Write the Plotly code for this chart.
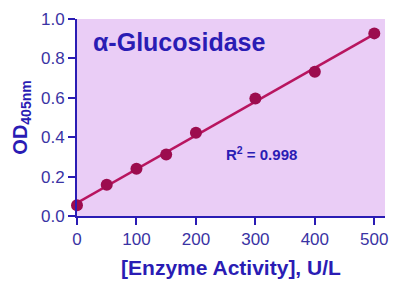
import numpy as np
import plotly.graph_objects as go

activity = [0, 50, 100, 150, 200, 300, 400, 500]
od405 = [0.055, 0.159, 0.240, 0.312, 0.423, 0.596, 0.732, 0.927]
x_ticks = [0, 100, 200, 300, 400, 500]
y_ticks = [0.0, 0.2, 0.4, 0.6, 0.8, 1.0]

slope, intercept = np.polyfit(activity, od405, 1)
fit_x = [activity[0], activity[-1]]
fit_y = [intercept + slope * v for v in fit_x]

blue = "#2A1CB4"
tick_blue = "#3A33A4"
fig = go.Figure()
fig.add_trace(go.Scatter(
    x=fit_x, y=fit_y, mode="lines",
    line=dict(color="#B8155F", width=2.6),
    cliponaxis=False, showlegend=False))
fig.add_trace(go.Scatter(
    x=activity, y=od405, mode="markers",
    marker=dict(color="#9C0C4E", size=12),
    cliponaxis=False, showlegend=False))

fig.update_layout(
    width=398, height=289,
    margin=dict(l=77, r=12, t=10, b=73),
    paper_bgcolor="white", plot_bgcolor="#EACDF6",
    font=dict(family="Arial, Liberation Sans, sans-serif", color=blue),
    xaxis=dict(range=[0, 518], tickvals=x_ticks, ticktext=[str(v) for v in x_ticks],
               showgrid=False, zeroline=False, showline=True, linecolor=blue, linewidth=2,
               ticks="outside", ticklen=7, tickwidth=2, tickcolor=blue,
               tickfont=dict(size=17, color=tick_blue),
               title=dict(text="<b>[Enzyme Activity], U/L</b>", font=dict(size=21, color=blue), standoff=12)),
    yaxis=dict(range=[0, 1.0], tickvals=y_ticks, ticktext=[f"{v:.1f}" for v in y_ticks],
               showgrid=False, zeroline=False, showline=True, linecolor=blue, linewidth=2,
               ticks="outside", ticklen=7, tickwidth=2, tickcolor=blue,
               tickfont=dict(size=17, color=tick_blue),
               title=dict(text="<b>OD<sub>405nm</sub></b>", font=dict(size=20, color=blue), standoff=8)),
    annotations=[
        dict(text="<b>α-Glucosidase</b>", x=0.045, y=0.885, xref="paper", yref="paper",
             xanchor="left", yanchor="middle", showarrow=False, font=dict(size=25, color=blue)),
        dict(text="<b>R<sup>2</sup> = 0.998</b>", x=0.478, y=0.315, xref="paper", yref="paper",
             xanchor="left", yanchor="middle", showarrow=False, font=dict(size=15, color=blue)),
    ],
)
fig.write_html("out.html")
